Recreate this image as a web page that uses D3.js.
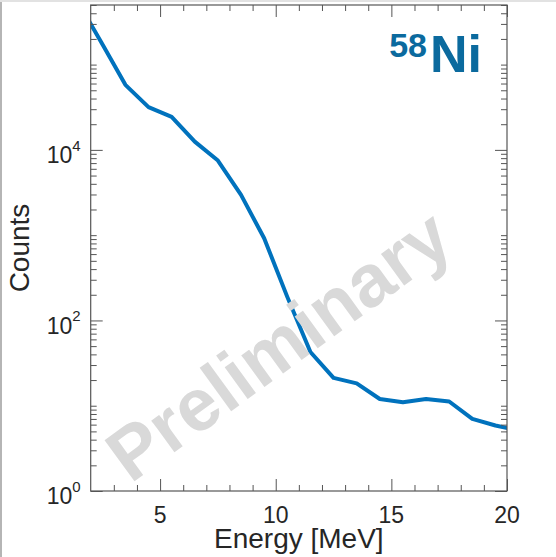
<!DOCTYPE html>
<html>
<head>
<meta charset="utf-8">
<script src="https://cdn.jsdelivr.net/npm/d3@7"></script>
<style>
  html, body { margin: 0; padding: 0; background: #fff; }
  svg { display: block; }
  text { font-family: "Liberation Sans", Arial, Helvetica, sans-serif; }
</style>
</head>
<body>
<svg id="chart" width="556" height="557"></svg>
<script>
// Energy bin centres (MeV) and measured counts
const energy = [1.5, 2.5, 3.5, 4.5, 5.5, 6.5, 7.5, 8.5, 9.5, 10.5, 11.5, 12.5, 13.5, 14.5, 15.5, 16.5, 17.5, 18.5, 19.5, 20.5];
const counts = [516000, 175000, 57900, 31700, 24400, 12500, 7500, 2970, 921, 189, 42.7, 21.2, 18.3, 12.0, 11.0, 12.0, 11.2, 7.0, 5.87, 5.13];

const xTickValues = [5, 10, 15, 20];
const xTickLabels = ["5", "10", "15", "20"];
const yTickValues = [1, 100, 10000];
const yTickExponents = ["0", "2", "4"];

const xDomain = [2, 20];
const yDomain = [1, 5e5];

const svg = d3.select("#chart");
const W = 556, H = 557;
const margin = { left: 90.7, right: 49, top: 5, bottom: 66 };
const plotW = W - margin.left - margin.right;
const plotH = H - margin.top - margin.bottom;

const x = d3.scaleLinear().domain(xDomain).range([margin.left, margin.left + plotW]);
const y = d3.scaleLog().domain(yDomain).range([margin.top + plotH, margin.top]);

const axisColor = "#555555";
const textColor = "#262626";
const lineColor = "#0072BD";

// outer frame edges
svg.append("line").attr("x1", 1).attr("x2", 1).attr("y1", 0).attr("y2", H)
  .attr("stroke", "#b5b5b5").attr("stroke-width", 2);
svg.append("line").attr("x1", 0).attr("x2", W).attr("y1", 1).attr("y2", 1)
  .attr("stroke", "#e2e2e2").attr("stroke-width", 2);

// clip region for the data line
svg.append("defs").append("clipPath").attr("id", "plotClip")
  .append("rect")
  .attr("x", margin.left).attr("y", margin.top)
  .attr("width", plotW).attr("height", plotH);

// spectrum line
const pts = energy.map((e, i) => [e, counts[i]]);
svg.append("path")
  .datum(pts)
  .attr("clip-path", "url(#plotClip)")
  .attr("fill", "none")
  .attr("stroke", lineColor)
  .attr("stroke-width", 4)
  .attr("stroke-linejoin", "round")
  .attr("d", d3.line().x(d => x(d[0])).y(d => y(d[1])));

// watermark
svg.append("text")
  .attr("transform", "translate(282,350) rotate(-36)")
  .attr("text-anchor", "middle")
  .attr("dominant-baseline", "middle")
  .attr("font-size", 74)
  .attr("font-weight", "bold")
  .attr("fill", "#d9d9d9")
  .text("Preliminary");

// axes with inward ticks, mirrored on all four sides
const bottomY = margin.top + plotH, topY = margin.top;
const leftX = margin.left, rightX = margin.left + plotW;

const xAxisB = d3.axisBottom(x).tickValues(xTickValues).tickSize(-12).tickFormat("");
const xAxisT = d3.axisTop(x).tickValues(xTickValues).tickSize(-12).tickFormat("");
const xMinor = d3.range(3, 20, 1).filter(v => v % 5 !== 0);
const xAxisBm = d3.axisBottom(x).tickValues(xMinor).tickSize(-6).tickFormat("");
const xAxisTm = d3.axisTop(x).tickValues(xMinor).tickSize(-6).tickFormat("");

const yMinor = [];
for (let d = 1; d <= 1e5; d *= 10) for (let k = 2; k <= 9; k++) if (d * k <= yDomain[1]) yMinor.push(d * k);
yMinor.push(10, 1000, 100000);
const yAxisL = d3.axisLeft(y).tickValues(yTickValues).tickSize(-12).tickFormat("");
const yAxisR = d3.axisRight(y).tickValues(yTickValues).tickSize(-12).tickFormat("");
const yAxisLm = d3.axisLeft(y).tickValues(yMinor).tickSize(-6).tickFormat("");
const yAxisRm = d3.axisRight(y).tickValues(yMinor).tickSize(-6).tickFormat("");

function styleAxis(g) {
  g.select(".domain").remove();
  g.selectAll(".tick line").attr("stroke", axisColor).attr("stroke-width", 1);
}
svg.append("g").attr("transform", `translate(0,${bottomY})`).call(xAxisB).call(styleAxis);
svg.append("g").attr("transform", `translate(0,${bottomY})`).call(xAxisBm).call(styleAxis);
svg.append("g").attr("transform", `translate(0,${topY})`).call(xAxisT).call(styleAxis);
svg.append("g").attr("transform", `translate(0,${topY})`).call(xAxisTm).call(styleAxis);
svg.append("g").attr("transform", `translate(${leftX},0)`).call(yAxisL).call(styleAxis);
svg.append("g").attr("transform", `translate(${leftX},0)`).call(yAxisLm).call(styleAxis);
svg.append("g").attr("transform", `translate(${rightX},0)`).call(yAxisR).call(styleAxis);
svg.append("g").attr("transform", `translate(${rightX},0)`).call(yAxisRm).call(styleAxis);

// frame
svg.append("rect")
  .attr("x", leftX).attr("y", topY).attr("width", plotW).attr("height", plotH)
  .attr("fill", "none").attr("stroke", axisColor).attr("stroke-width", 1.2);

// x tick labels
svg.append("g").selectAll("text").data(xTickValues).join("text")
  .attr("x", d => x(d)).attr("y", bottomY + 32)
  .attr("text-anchor", "middle").attr("font-size", 23).attr("fill", textColor)
  .text((d, i) => xTickLabels[i]);

// y tick labels: 10 with superscript exponent
const yl = svg.append("g").selectAll("text").data(yTickValues).join("text")
  .attr("x", leftX - 10).attr("y", d => y(d) + 13.3)
  .attr("text-anchor", "end").attr("font-size", 23).attr("fill", textColor);
yl.append("tspan").text("10");
yl.append("tspan").attr("font-size", 15).attr("dy", -12.6).text((d, i) => yTickExponents[i]);

// axis titles
svg.append("text")
  .attr("x", (leftX + rightX) / 2).attr("y", 548)
  .attr("text-anchor", "middle").attr("font-size", 28).attr("fill", textColor)
  .text("Energy [MeV]");
svg.append("text")
  .attr("transform", `translate(29,${(topY + bottomY) / 2}) rotate(-90)`)
  .attr("text-anchor", "middle").attr("font-size", 28).attr("fill", textColor)
  .text("Counts");

// isotope label
const iso = svg.append("text")
  .attr("x", 482).attr("y", 72)
  .attr("text-anchor", "end").attr("font-weight", "bold").attr("fill", "#0b6a9e");
iso.append("tspan").attr("font-size", 34).attr("dy", -15).text("58");
iso.append("tspan").attr("font-size", 52).attr("dy", 15).attr("dx", 3).text("Ni");
</script>
</body>
</html>
